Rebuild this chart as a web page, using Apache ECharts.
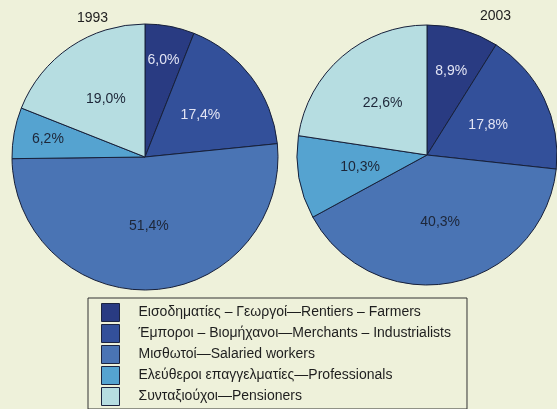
<!DOCTYPE html>
<html>
<head>
<meta charset="utf-8">
<script src="https://cdn.jsdelivr.net/npm/echarts@6/dist/echarts.min.js"></script>
<style>
  html, body { margin: 0; padding: 0; background: #eef1da; }
  #chart { width: 557px; height: 409px; }
</style>
</head>
<body>
<div id="chart"></div>
<script>
// categories (legend names)
const categories = [
    'Εισοδηματίες – Γεωργοί—Rentiers – Farmers',
    'Έμποροι – Βιομήχανοι—Merchants – Industrialists',
    'Μισθωτοί—Salaried workers',
    'Ελεύθεροι επαγγελματίες—Professionals',
    'Συνταξιούχοι—Pensioners'
];
const years = ['1993', '2003'];
const values1993 = [6.0, 17.4, 51.4, 6.2, 19.0];
const values2003 = [8.9, 17.8, 40.3, 10.3, 22.6];

const colors = ['#293b82', '#33509a', '#4a74b4', '#55a3d0', '#b6dde1'];
const labelColors = ['#e2e4f4', '#e2e4f4', '#1d2638', '#1d2638', '#1d2638'];
// labels that sit further out in the small slices
const farLabels = {
    '1993': [0, 3],
    '2003': [0]
};
const farScale = { '1993': 1.44, '2003': 1.3 };

const fmt = v => v.toFixed(1).replace('.', ',') + '%';

function buildData(values, year, far) {
    return values.map((v, i) => {
        const show = far ? farLabels[year].includes(i) : !farLabels[year].includes(i);
        return {
            name: categories[i],
            value: v,
            label: { show: show, color: labelColors[i] }
        };
    });
}

function pieSeries(values, year, center, r) {
    const main = {
        type: 'pie',
        name: year,
        center: center,
        radius: [0, r],
        startAngle: 90,
        clockwise: true,
        silent: true,
        animation: false,
        itemStyle: { borderColor: '#17203a', borderWidth: 1 },
        label: {
            position: 'inside',
            formatter: p => fmt(p.value),
            fontFamily: 'Liberation Sans',
            fontSize: 14
        },
        labelLine: { show: false },
        emphasis: { disabled: true },
        data: buildData(values, year, false)
    };
    // transparent copy, only used for labels placed further out
    const outer = {
        type: 'pie',
        name: year + ' labels',
        center: center,
        radius: [0, r * farScale[year]],
        startAngle: 90,
        clockwise: true,
        silent: true,
        animation: false,
        legendHoverLink: false,
        itemStyle: { color: 'rgba(0,0,0,0)', borderWidth: 0 },
        label: {
            position: 'inside',
            formatter: p => fmt(p.value),
            fontFamily: 'Liberation Sans',
            fontSize: 14
        },
        labelLine: { show: false },
        emphasis: { disabled: true },
        data: buildData(values, year, true)
    };
    return [main, outer];
}

const myChart = echarts.init(document.getElementById('chart'));

const option = {
    backgroundColor: '#eef1da',
    color: colors,
    title: [
        {
            text: years[0], left: 72, top: 6,
            textStyle: { fontFamily: 'Liberation Sans', fontSize: 14, fontWeight: 'normal', color: '#222' }
        },
        {
            text: years[1], left: 475, top: 4,
            textStyle: { fontFamily: 'Liberation Sans', fontSize: 14, fontWeight: 'normal', color: '#222' }
        }
    ],
    legend: {
        orient: 'vertical',
        left: 88,
        top: 298,
        height: 110,
        padding: [5, 16, 3, 13],
        borderColor: '#333',
        borderWidth: 1,
        itemWidth: 18,
        itemHeight: 18,
        itemGap: 2,
        selectedMode: false,
        icon: 'rect',
        textStyle: {
            fontFamily: 'Liberation Sans',
            fontSize: 14,
            color: '#1e1e1e',
            padding: [0, 0, 0, 14]
        },
        data: categories.map((c, i) => ({
            name: c,
            itemStyle: { color: colors[i], borderColor: '#1c2440', borderWidth: 1 }
        }))
    },
    series: [
        ...pieSeries(values1993, years[0], [145, 157], 133),
        ...pieSeries(values2003, years[1], [427, 155], 130)
    ]
};

myChart.setOption(option);

window.addEventListener('resize', () => {
    myChart.resize();
});
</script>
</body>
</html>
